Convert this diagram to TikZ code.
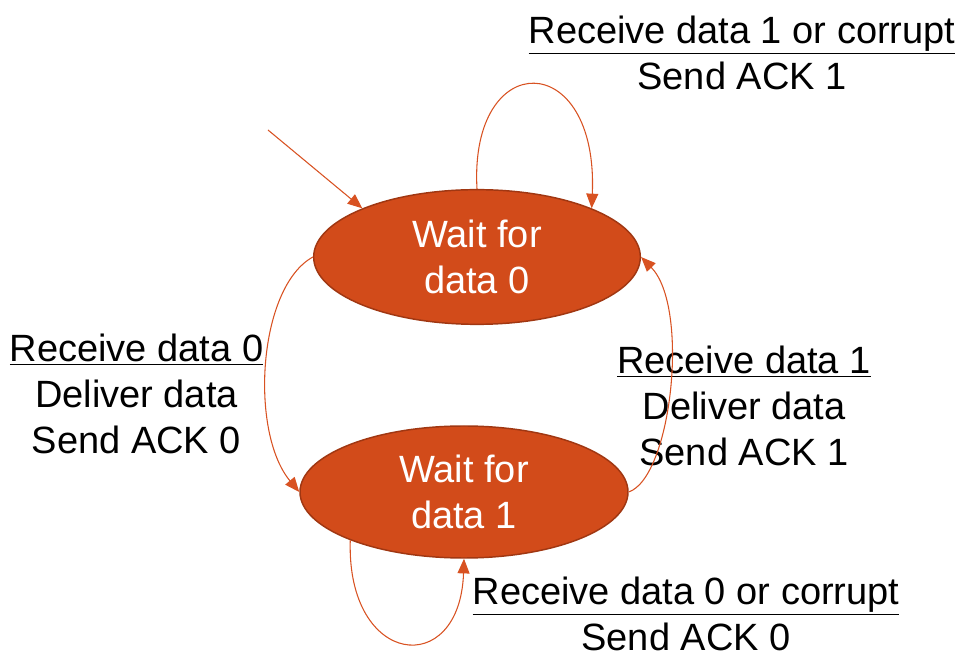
\documentclass[tikz,border=0pt]{standalone}
\usepackage{fontspec}
\setmainfont{Liberation Sans}
\usetikzlibrary{arrows.meta,shapes.geometric}

\definecolor{statefill}{RGB}{210,75,26}
\definecolor{stateedge}{RGB}{160,55,18}
\definecolor{linkcol}{RGB}{216,82,34}

\begin{document}
\begin{tikzpicture}[
        x=0.75pt, y=0.75pt,
        state/.style={ellipse, draw=stateedge, fill=statefill, line width=1.1pt, inner sep=0pt, text=white, align=center, font=\fontsize{28.5}{34.5}\selectfont}, % State styling
        label/.style={align=center, inner sep=0pt, font=\fontsize{28.5}{34.5}\selectfont}, % Text styling
        link/.style={draw=linkcol, line width=0.8pt, -{Triangle[length=11pt,width=9pt]}} % Arrow styling
        ]
        \useasboundingbox (0,0) rectangle (964,657);

        % Define nodes
        \node (wait0) [state, minimum width=245pt, minimum height=101pt] at (477,400) {Wait for\\data 0};
        \node (wait1) [state, minimum width=246pt, minimum height=99pt] at (464,165) {Wait for\\data 1};
        \coordinate (start) at (268,527);

        \node (top) [label] at (742,604) {\underline{Receive data 1 or corrupt}\\Send ACK 1};
        \node (left) [label] at (136.5,263) {\underline{Receive data 0}\\Deliver data\\Send ACK 0};
        \node (right) [label] at (744,251) {\underline{Receive data 1}\\Deliver data\\Send ACK 1};
        \node (bottom) [label] at (686,43) {\underline{Receive data 0 or corrupt}\\Send ACK 0};

        % Draw arrows
        \draw[link] (start) -- (wait0.157);
        \draw[link] (wait0.north) .. controls +(-8,142) and +(7,161) .. (wait0.23);
        \draw[link] (wait0.west) .. controls +(-55,-30) and +(-50,60) .. (wait1.west);
        \draw[link] (wait1.east) .. controls +(43,15) and +(49,-50) .. (wait0.east);
        \draw[link] (wait1.203) .. controls +(-4,-127) and +(-4,-121) .. (wait1.south);

    \end{tikzpicture}
\end{document}
